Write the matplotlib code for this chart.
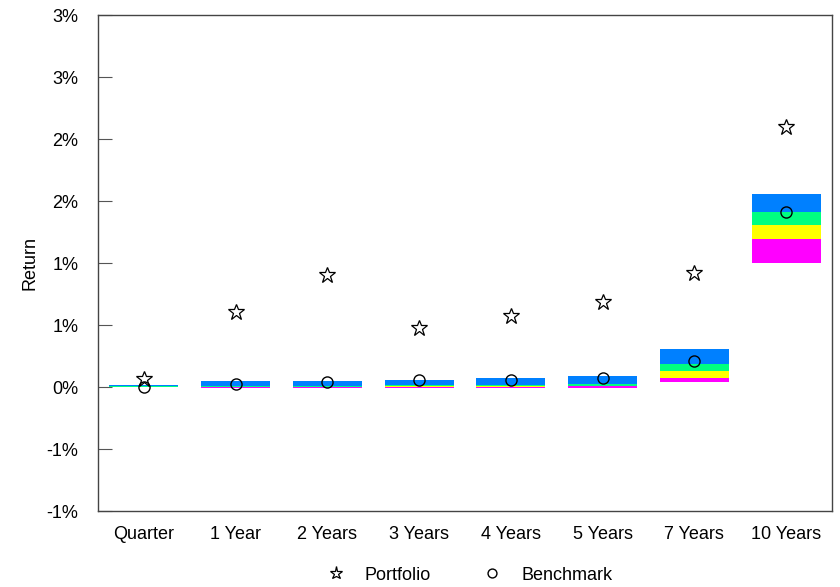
import matplotlib
matplotlib.use("Agg")
import matplotlib.pyplot as plt
import numpy as np

plt.rcParams['font.family'] = ['Liberation Sans', 'DejaVu Sans']

periods = ["Quarter", "1 Year", "2 Years", "3 Years", "4 Years", "5 Years", "7 Years", "10 Years"]
p_bottom = [-0.003, -0.010, -0.010, -0.010, -0.010, -0.005, 0.040, 1.000]
p_25 = [0.000, 0.000, 0.000, 0.000, 0.000, 0.005, 0.075, 1.190]
p_50 = [0.002, 0.004, 0.004, 0.005, 0.006, 0.012, 0.130, 1.305]
p_75 = [0.006, 0.012, 0.012, 0.015, 0.018, 0.025, 0.186, 1.410]
p_top = [0.020, 0.050, 0.045, 0.060, 0.075, 0.085, 0.310, 1.560]
portfolio = [0.065, 0.606, 0.905, 0.477, 0.574, 0.687, 0.920, 2.100]
benchmark = [0.000, 0.024, 0.040, 0.057, 0.057, 0.073, 0.210, 1.415]
ytick_vals = [-1.0, -0.5, 0.0, 0.5, 1.0, 1.5, 2.0, 2.5, 3.0]
ytick_labels = ["-1%", "-1%", "0%", "1%", "1%", "2%", "2%", "3%", "3%"]

band_colors = ["#FF00FF", "#FFFF00", "#00FF80", "#0080FF"]

FS = 13

fig = plt.figure(figsize=(8.4, 5.87), dpi=100)
ax = fig.add_axes([98/840, 76/587, (832-98)/840, (511-15)/587])

x = np.arange(len(periods))
edges = [p_bottom, p_25, p_50, p_75, p_top]
for i in range(4):
    lo = np.array(edges[i]); hi = np.array(edges[i+1])
    ax.bar(x, hi - lo, bottom=lo, width=0.75, color=band_colors[i],
           edgecolor='none', zorder=2)

ax.plot(x, portfolio, linestyle='none', marker='*', markersize=12,
        markerfacecolor='none', markeredgecolor='black', markeredgewidth=0.9,
        label='Portfolio', zorder=3)
ax.plot(x, benchmark, linestyle='none', marker='o', markersize=8,
        markerfacecolor='none', markeredgecolor='black', markeredgewidth=1.0,
        label='Benchmark', zorder=3)

ax.set_xlim(-0.5, len(periods) - 0.5)
ax.set_ylim(-1.0, 3.0)
ax.set_xticks(x)
ax.set_xticklabels(periods, fontsize=FS)
ax.tick_params(axis='x', length=0, pad=11)
ax.set_yticks(ytick_vals)
ax.set_yticklabels(ytick_labels, fontsize=FS)
ax.tick_params(axis='y', direction='in', length=10, width=0.8, color='#555555', pad=14)
for s in ax.spines.values():
    s.set_color('#444444')
    s.set_linewidth(1.0)
ax.set_ylabel("Return", fontsize=FS)
ax.yaxis.set_label_coords(-60/734, 0.5)

leg = ax.legend(loc='center', bbox_to_anchor=(0.5, (511-575)/496), ncol=2,
                frameon=False, fontsize=FS, columnspacing=2.4, handletextpad=0.6,
                markerscale=0.8, borderpad=0.2)

fig.savefig("out.png", dpi=100)
